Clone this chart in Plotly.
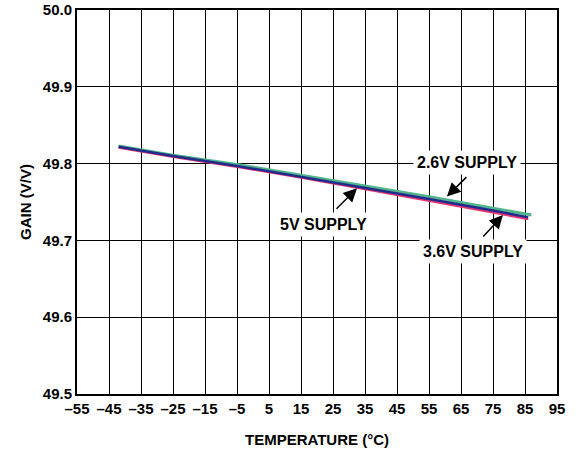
import plotly.graph_objects as go

# Gain vs. temperature for three supply voltages
temp_c = [-42, -25, -5, 15, 35, 55, 75, 87]
gain_2v6 = [49.823, 49.811, 49.799, 49.785, 49.771, 49.757, 49.742, 49.733]
temp_c_lo = [-42, -25, -5, 15, 35, 55, 75, 86]
gain_5v = [49.822, 49.810, 49.797, 49.783, 49.768, 49.754, 49.739, 49.730]
gain_3v6 = [49.821, 49.809, 49.796, 49.782, 49.767, 49.752, 49.737, 49.728]

x_ticks = list(range(-55, 96, 10))
x_tick_text = [f"\u2013{abs(v)}" if v < 0 else str(v) for v in x_ticks]
y_ticks = [49.5, 49.6, 49.7, 49.8, 49.9, 50.0]

FONT = "Liberation Sans"

fig = go.Figure()
fig.add_trace(go.Scatter(x=temp_c, y=gain_2v6, mode="lines",
                         line=dict(color="#52b48a", width=3), name="2.6V"))
fig.add_trace(go.Scatter(x=temp_c_lo, y=gain_3v6, mode="lines",
                         line=dict(color="#e8336f", width=2.5), name="3.6V"))
fig.add_trace(go.Scatter(x=temp_c_lo, y=gain_5v, mode="lines",
                         line=dict(color="#1f2c8c", width=2.5), name="5V"))

labels = [
    # text, text x, text y, arrow tip x, arrow tip y, tail offset
    ("2.6V SUPPLY", 66.9, 49.802, 60.6, 49.757, 21, -21),
    ("5V SUPPLY", 21.9, 49.721, 32.5, 49.768, -22, 22),
    ("3.6V SUPPLY", 68.75, 49.685, 78.1, 49.733, -21, 23),
]
for text, tx, ty, ax_x, ax_y, dx, dy in labels:
    fig.add_annotation(x=ax_x, y=ax_y, ax=dx, ay=dy, text="", showarrow=True,
                       arrowhead=2, arrowsize=1.8, arrowwidth=1.5,
                       arrowcolor="black")
    fig.add_annotation(x=tx, y=ty, text=f"<b>{text}</b>", showarrow=False,
                       bgcolor="white", borderpad=3,
                       font=dict(family=FONT, size=16, color="black"))

tick_font = dict(family=FONT, size=15, color="black", weight="bold")
title_font = dict(family=FONT, size=15, color="black", weight="bold")

fig.update_xaxes(range=[-55, 95], tickvals=x_ticks, ticktext=x_tick_text,
                 showgrid=True, gridcolor="black", gridwidth=1.2,
                 showline=True, linecolor="black", linewidth=2, mirror=True,
                 zeroline=False, ticks="", tickfont=tick_font, automargin=False,
                 title=dict(text="TEMPERATURE (°C)", standoff=18, font=title_font))
fig.update_yaxes(range=[49.5, 50.0], tickvals=y_ticks,
                 ticktext=[f"{v:.1f}" for v in y_ticks],
                 showgrid=True, gridcolor="black", gridwidth=1.2,
                 showline=True, linecolor="black", linewidth=2, mirror=True,
                 zeroline=False, ticks="", tickfont=tick_font, automargin=False,
                 title=dict(text="GAIN (V/V)", standoff=8, font=title_font))

fig.update_layout(width=576, height=452, showlegend=False,
                  plot_bgcolor="white", paper_bgcolor="white",
                  margin=dict(l=77, r=19, t=10, b=58))

fig.write_html("out.html")
